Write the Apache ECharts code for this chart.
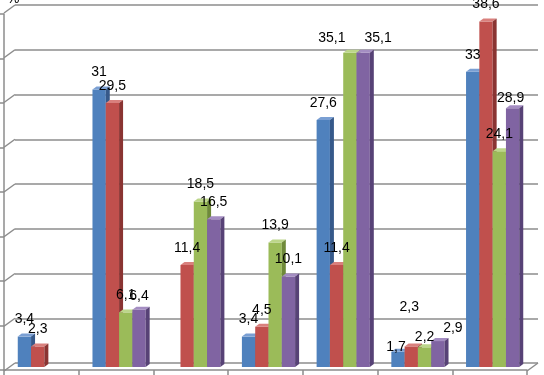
<!DOCTYPE html>
<html>
<head>
<meta charset="utf-8">
<script src="https://cdn.jsdelivr.net/npm/echarts@6/dist/echarts.min.js"></script>
<style>
  html, body { margin: 0; padding: 0; background: #fff; }
  #chart { width: 544px; height: 375px; }
</style>
</head>
<body>
<div id="chart"></div>
<script>
// category names are cut off in the picture
const categories = ['1', '2', '3', '4', '5', '6', '7'];
const seriesA = [3.4, 31, null, 3.4, 27.6, 1.7, 33];
const seriesB = [2.3, 29.5, 11.4, 4.5, 11.4, 2.3, 38.6];
const seriesC = [null, 6.1, 18.5, 13.9, 35.1, 2.2, 24.1];
const seriesD = [null, 6.4, 16.5, 10.1, 35.1, 2.9, 28.9];
const yTicks = [0, 5, 10, 15, 20, 25, 30, 35, 40];

const allSeries = [seriesA, seriesB, seriesC, seriesD];

// front / top / side colours of the 3d bars
const faces = [
  { front: '#4f81bd', top: '#7a9fd3', side: '#36598a' },
  { front: '#c0504d', top: '#d9807d', side: '#8a3432' },
  { front: '#9bbb59', top: '#bcd68a', side: '#6f8a3a' },
  { front: '#8064a2', top: '#a48dc2', side: '#574276' }
];

// hand-moved labels (series-category): [dx, dy]
const nudge = {
  '3-1': [0, 3],
  '2-4': [-18, 2], '3-4': [15, 2],
  '0-5': [-2, 12], '1-5': [-2, -22], '2-5': [0, 7], '3-5': [15, 4],
  '3-6': [-2, 7]
};

const gridColor = '#8c8c8c';
const depthX = 4, depthY = 3;

let barItem = (s) => (params, api) => {
  const i = api.value(0);
  const v = api.value(1);
  const band = api.size([1, 0])[0];
  const w = band * 0.178;
  const base = api.coord([i, 0]);
  const top = api.coord([i, v]);
  const x0 = base[0] + (s - 2) * w - 2;
  const yb = base[1], yt = top[1];
  const f = faces[s];
  const n = nudge[s + '-' + i] || [0, 0];
  return {
    type: 'group',
    children: [
      { type: 'rect', shape: { x: x0, y: yt, width: w, height: yb - yt }, style: { fill: f.front } },
      { type: 'polygon', shape: { points: [[x0, yt], [x0 + w, yt], [x0 + w + depthX, yt - depthY], [x0 + depthX, yt - depthY]] }, style: { fill: f.top } },
      { type: 'polygon', shape: { points: [[x0 + w, yt], [x0 + w + depthX, yt - depthY], [x0 + w + depthX, yb - depthY], [x0 + w, yb]] }, style: { fill: f.side } },
      {
        type: 'text', z2: 100,
        style: {
          text: String(v).replace('.', ','),
          x: x0 + w / 2 + n[0], y: yt - 17 + n[1],
          align: 'center', verticalAlign: 'middle',
          font: '14px "Liberation Sans"', fill: '#000'
        }
      }
    ]
  };
};

// side wall diagonals + right floor corner
let wallItem = (params, api) => {
  const p = api.coord([api.value(0), api.value(1)]);
  return {
    type: 'line',
    shape: { x1: p[0], y1: p[1], x2: p[0] - 11, y2: p[1] + 8 },
    style: { stroke: gridColor, lineWidth: 1.5 }
  };
};

const wallData = yTicks.map(v => [0, v]).concat([[1, 0]]);

let option = {
  backgroundColor: '#fff',
  animation: false,
  // axis unit, cut off at the top edge like the source
  title: {
    text: '%', left: 7, top: -8, padding: 0,
    textStyle: { color: '#000', fontSize: 14, fontWeight: 'normal', fontFamily: 'Liberation Sans' }
  },
  grid: [
    { left: 9, right: 12, top: 9, bottom: 8 },   // bars, mid depth
    { left: 15, right: 6, top: 5, bottom: 12 },  // back wall
    { left: 4, right: 17, top: 14, bottom: 5 }   // front edge
  ],
  xAxis: [
    { gridIndex: 0, type: 'category', data: categories, show: false },
    { gridIndex: 1, type: 'value', min: 0, max: 1, show: false },
    {
      gridIndex: 2, type: 'category', data: categories,
      axisLine: { lineStyle: { color: gridColor, width: 1.5 } },
      axisTick: { show: true, length: 6, interval: 0, lineStyle: { color: gridColor, width: 1.5 } },
      axisLabel: { show: false }
    }
  ],
  yAxis: [
    { gridIndex: 0, type: 'value', min: 0, max: 40, interval: 5, show: false },
    {
      gridIndex: 1, type: 'value', min: 0, max: 40, interval: 5,
      axisLine: { show: false }, axisTick: { show: false }, axisLabel: { show: false },
      splitLine: { show: true, lineStyle: { color: gridColor, width: 1.5 } }
    },
    {
      gridIndex: 2, type: 'value', min: 0, max: 40, interval: 5,
      axisLine: { show: true, lineStyle: { color: gridColor, width: 1.5 } },
      axisTick: { show: true, length: 4, lineStyle: { color: gridColor, width: 1.5 } },
      axisLabel: { show: false },
      splitLine: { show: false }
    }
  ],
  series: [
    {
      type: 'custom', xAxisIndex: 1, yAxisIndex: 1,
      renderItem: wallItem, data: wallData, silent: true
    }
  ].concat(allSeries.map((vals, s) => ({
    type: 'custom',
    xAxisIndex: 0, yAxisIndex: 0,
    encode: { x: 0, y: 1 },
    renderItem: barItem(s),
    data: vals.map((v, i) => [i, v]).filter(d => d[1] != null)
  })))
};

let chart = echarts.init(document.getElementById('chart'));
chart.setOption(option);
</script>
</body>
</html>
